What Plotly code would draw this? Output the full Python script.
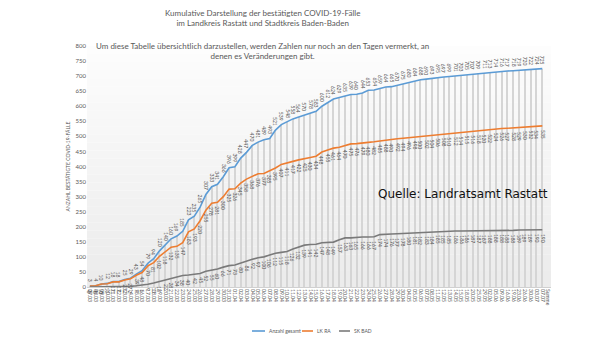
import plotly.graph_objects as go

# ---------------- data ----------------
dates = [
    "07.03", "08.03", "09.03", "10.03", "11.03", "12.03", "13.03", "14.03", "15.03", "16.03",
    "17.03", "18.03", "19.03", "20.03", "21.03", "22.03", "23.03", "24.03", "25.03", "26.03",
    "27.03", "28.03", "29.03", "30.03", "31.03",
    "01.04", "02.04", "03.04", "04.04", "05.04", "06.04", "07.04", "08.04", "09.04", "10.04",
    "11.04", "12.04", "13.04", "14.04", "15.04", "16.04", "17.04", "18.04", "19.04", "20.04",
    "21.04", "22.04", "23.04", "24.04", "25.04", "26.04", "27.04", "28.04", "29.04", "30.04",
    "04.05", "05.05", "06.05", "07.05", "08.05", "11.05", "12.05", "13.05", "14.05", "15.05",
    "18.05", "20.05", "25.05", "29.05",
    "02.06", "05.06", "09.06", "16.06", "19.06", "23.06", "26.06", "30.06",
    "03.07", "07.07",
]
summe_label = "Summe"

anzahl_gesamt = [
    3, 4, 10, 12, 18, 18, 25, 29, 43, 54, 79, 94, 120, 140, 160, 169, 185, 223, 235, 265,
    307, 333, 341, 366, 396,
    399, 428, 447, 470, 481, 489, 493, 521, 539, 548, 558, 564, 570, 578, 583, 600, 612, 624,
    629, 635, 639, 640, 644, 653, 654, 659, 664, 665, 670, 675,
    680, 684, 688, 690, 693, 695, 697, 699, 701, 703, 705, 707, 709, 711,
    713, 714, 716, 717, 718, 719, 720, 722, 724, 725,
]
lk_ra = [
    3, 4, 10, 11, 17, 17, 23, 27, 39, 48, 70, 81, 102, 118, 132, 135, 147, 183, 193, 220,
    255, 278, 281, 300, 325,
    326, 345, 358, 368, 376, 377, 385, 395, 407, 411, 417, 422, 425, 430, 434, 448, 455, 461,
    464, 470, 475, 476, 479, 480, 482, 485, 488, 490, 492, 494,
    496, 498, 500, 502, 504, 506, 508, 510, 512, 514, 515, 516, 518, 520,
    522, 524, 526, 527, 528, 529, 530, 532, 534, 535,
]
sk_bad = [
    0, 0, 0, 1, 1, 1, 2, 2, 4, 6, 9, 13, 18, 22, 28, 34, 38, 40, 42, 45,
    52, 55, 60, 66, 71,
    73, 80, 86, 92, 97, 100, 106, 112, 115, 118, 126, 132, 139, 141, 142, 147, 148, 149,
    157, 163, 163, 165, 166, 166, 167, 174, 174, 176, 177, 178,
    180, 181, 182, 183, 184, 185, 185, 185, 186, 186, 186, 187, 187, 187,
    188, 188, 188, 188, 188, 189, 189, 189, 190, 190,
]

series_names = ["Anzahl gesamt", "LK RA", "SK BAD"]
y_ticks = list(range(0, 801, 50))

# ---------------- style ----------------
C_BLUE = "#5B9BD5"
C_ORANGE = "#ED7D31"
C_GRAY = "#7A7A7A"
TXT = "#595959"
FONT = "Lato"

categories = dates + [summe_label]

fig = go.Figure()

# drop lines (from the total series down to the axis)
fig.add_trace(go.Bar(x=dates, y=anzahl_gesamt, width=0.2, marker_color="#d5d5d5",
                     marker_line_width=0, hoverinfo="skip", showlegend=False))

for name, vals, col in zip(series_names, [anzahl_gesamt, lk_ra, sk_bad], [C_BLUE, C_ORANGE, C_GRAY]):
    fig.add_trace(go.Scatter(x=dates, y=vals, mode="lines", name=name,
                             line=dict(color=col, width=1.6), showlegend=False))

annotations = []
# data labels (x given as category index so "07.03" is not read as a number)
for i, v in enumerate(anzahl_gesamt):
    annotations.append(dict(x=i, y=v, xref="x", yref="y", text=str(v), textangle=90,
                            showarrow=False, yanchor="bottom", yshift=2,
                            font=dict(size=5, color=TXT, family=FONT)))
for i, v in enumerate(lk_ra):
    annotations.append(dict(x=i, y=v, xref="x", yref="y", text=str(v), textangle=90,
                            showarrow=False, yanchor="top", yshift=-2,
                            font=dict(size=5, color=TXT, family=FONT)))
for i, v in enumerate(sk_bad):
    annotations.append(dict(x=i, y=v, xref="x", yref="y", text=str(v), textangle=90,
                            showarrow=False, yanchor="top", yshift=-2,
                            font=dict(size=5, color=TXT, family=FONT)))

# titles (pixel positions converted to paper coordinates)
L, R, T, B = 87, 57, 46, 55
W, H = 608, 342
pw, ph = W - L - R, H - T - B


def px(x):
    return (x - L) / pw


def py(y):
    return (H - B - y) / ph


annotations.append(dict(x=px(262), y=py(18.5), xref="paper", yref="paper", showarrow=False,
                        yanchor="middle",
                        text="Kumulative Darstellung der bestätigten COVID-19-Fälle<br>im Landkreis Rastatt und Stadtkreis Baden-Baden",
                        font=dict(size=8, color=TXT, family=FONT), align="center"))
annotations.append(dict(x=px(262), y=py(50.5), xref="paper", yref="paper", showarrow=False,
                        yanchor="middle",
                        text="Um diese Tabelle übersichtlich darzustellen, werden Zahlen nur noch an den Tagen vermerkt, an<br>denen es Veränderungen gibt.",
                        font=dict(size=8, color=TXT, family=FONT), align="center"))
annotations.append(dict(x=px(550), y=py(194), xref="paper", yref="paper", showarrow=False,
                        xanchor="right", yanchor="middle", text="Quelle: Landratsamt Rastatt",
                        font=dict(size=12, color="#111111", family="DejaVu Sans")))

# custom legend
shapes = []
leg_y = 331
for (x0, x1, tx), name, col in zip([(252, 265, 267), (302, 313, 315), (339, 350, 352)],
                                    series_names, [C_BLUE, C_ORANGE, C_GRAY]):
    shapes.append(dict(type="line", xref="paper", yref="paper", x0=px(x0), x1=px(x1),
                       y0=py(leg_y), y1=py(leg_y), line=dict(color=col, width=1.6)))
    annotations.append(dict(x=px(tx), y=py(leg_y), xref="paper", yref="paper", showarrow=False,
                            xanchor="left", yanchor="middle", text=name,
                            font=dict(size=5, color=TXT, family=FONT)))

# background gradient bands
nb = 30
for i in range(nb):
    t = i / (nb - 1)
    c = int(0xEC + (0xFD - 0xEC) * t)
    shapes.append(dict(type="rect", xref="paper", yref="paper", x0=0, x1=1,
                       y0=i / nb, y1=(i + 1) / nb, layer="below", line_width=0,
                       fillcolor=f"rgb({c},{c},{c})"))

fig.update_layout(
    width=W, height=H,
    margin=dict(l=L, r=R, t=T, b=B),
    paper_bgcolor="white", plot_bgcolor="white",
    showlegend=False, bargap=0,
    annotations=annotations, shapes=shapes,
    font=dict(family=FONT, color=TXT),
    xaxis=dict(type="category", categoryorder="array", categoryarray=categories,
               tickvals=categories, range=[-0.5, len(categories) - 0.5],
               tickangle=90, tickfont=dict(size=5, color=TXT, family=FONT),
               showgrid=False, zeroline=False, showline=True, linecolor="#d0d0d0",
               ticks="", fixedrange=True),
    yaxis=dict(range=[0, 800], tickvals=y_ticks, showgrid=False, zeroline=False,
               tickfont=dict(size=6, color=TXT, family=FONT), ticks="",
               title=dict(text="ANZAHL BESTÄTIGTE COVID-19-FÄLLE",
                          font=dict(size=5, color=TXT, family=FONT), standoff=4)),
)

fig.write_html("out.html")
